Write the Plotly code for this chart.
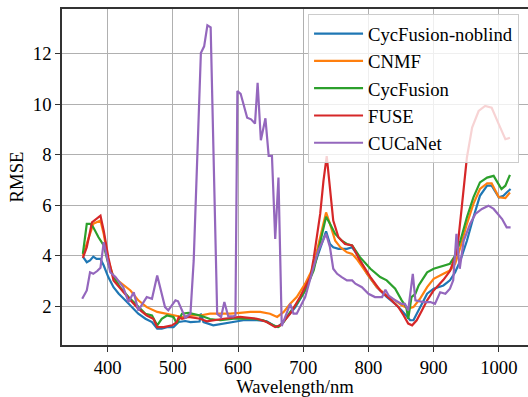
import plotly.graph_objects as go

# ---------------- data ----------------
wl_noblind = [362, 368, 373, 378, 383, 389, 394, 401, 409, 417, 427, 437, 447, 458, 468, 476, 483, 491,
              501, 509, 519, 527, 537, 541, 543, 547, 562, 578, 593, 608, 629, 644, 654, 660, 667, 677,
              688, 700, 711, 716, 726, 735, 741, 746, 754, 767, 775, 782, 798, 813, 828, 841, 851, 859,
              864, 869, 874, 879, 890, 900, 915, 925, 933, 941, 951, 961, 971, 982, 989, 1000, 1007,
              1012, 1018]
rmse_noblind = [3.97, 3.75, 3.82, 3.97, 3.88, 3.88, 3.62, 3.16, 2.76, 2.50, 2.24, 1.97, 1.71, 1.51, 1.38,
                1.12, 1.12, 1.18, 1.18, 1.38, 1.42, 1.38, 1.38, 1.40, 1.71, 1.38, 1.25, 1.32, 1.41, 1.45,
                1.45, 1.41, 1.25, 1.18, 1.32, 1.64, 1.97, 2.50, 3.16, 3.55, 4.34, 4.97, 4.47, 4.34, 4.28,
                4.28, 4.34, 4.08, 3.29, 2.76, 2.37, 2.10, 1.84, 1.58, 1.45, 1.45, 1.71, 1.97, 2.50, 2.70,
                2.83, 3.03, 3.35, 3.82, 4.60, 5.53, 6.38, 6.78, 6.78, 6.32, 6.38, 6.51, 6.65]

wl_cnmf = [362, 371, 378, 383, 389, 394, 401, 409, 422, 435, 447, 460, 476, 488, 501, 514, 527, 542, 557,
           573, 588, 603, 619, 634, 649, 660, 670, 680, 690, 703, 713, 722, 735, 741, 749, 757, 767, 775,
           782, 798, 813, 828, 841, 851, 861, 869, 879, 890, 900, 915, 925, 933, 941, 951, 961, 971, 982,
           989, 1000, 1010, 1017]
rmse_cnmf = [4.01, 4.74, 5.27, 5.33, 5.40, 4.87, 3.82, 3.16, 2.90, 2.63, 2.24, 1.97, 1.78, 1.71, 1.64, 1.58,
             1.64, 1.64, 1.71, 1.71, 1.71, 1.74, 1.78, 1.78, 1.71, 1.58, 1.78, 2.10, 2.37, 2.90, 3.42, 4.30,
             5.72, 5.27, 4.60, 4.34, 4.14, 4.08, 3.88, 3.29, 2.76, 2.43, 2.24, 2.04, 1.91, 1.97, 2.30, 2.76,
             3.09, 3.29, 3.42, 3.69, 4.34, 5.27, 6.06, 6.65, 6.87, 6.87, 6.32, 6.29, 6.51]

wl_cyc = [362, 368, 373, 378, 386, 394, 401, 409, 419, 432, 445, 458, 468, 476, 483, 491, 501, 506, 514,
          524, 542, 557, 573, 593, 624, 639, 654, 662, 670, 680, 690, 703, 716, 726, 735, 741, 749, 759,
          767, 775, 787, 803, 818, 828, 841, 851, 858, 861, 866, 872, 877, 882, 890, 900, 915, 925, 933,
          941, 951, 961, 971, 982, 992, 1004, 1010, 1017]
rmse_cyc = [4.08, 5.27, 5.27, 5.13, 4.74, 4.41, 3.69, 3.16, 2.76, 2.37, 2.04, 1.71, 1.64, 1.25, 1.51, 1.64,
            1.58, 1.32, 1.71, 1.74, 1.64, 1.50, 1.45, 1.51, 1.51, 1.45, 1.25, 1.18, 1.38, 1.78, 2.10, 2.63,
            3.42, 4.50, 5.55, 5.27, 4.87, 4.60, 4.47, 4.41, 3.95, 3.49, 3.16, 3.03, 2.70, 2.24, 1.97, 1.51,
            2.37, 2.50, 2.83, 3.03, 3.35, 3.49, 3.62, 3.69, 4.01, 4.60, 5.53, 6.32, 6.91, 7.10, 7.17, 6.65,
            6.78, 7.21]

wl_fuse = [362, 368, 376, 383, 389, 394, 401, 409, 422, 435, 447, 460, 470, 476, 486, 499, 506, 509, 514,
           524, 542, 552, 578, 603, 629, 644, 657, 665, 680, 695, 711, 716, 726, 731, 736, 740, 746, 754,
           764, 775, 787, 803, 818, 833, 846, 854, 861, 867, 874, 882, 890, 900, 915, 925, 936, 943, 951,
           959, 969, 979, 989, 1000, 1010, 1017]
rmse_fuse = [3.92, 4.34, 5.33, 5.46, 5.59, 5.00, 3.95, 3.03, 2.63, 2.24, 1.91, 1.64, 1.51, 1.18, 1.18, 1.25,
             1.38, 1.58, 1.51, 1.58, 1.51, 1.41, 1.51, 1.58, 1.51, 1.38, 1.18, 1.25, 1.71, 2.37, 3.16, 3.90,
             5.66, 6.97, 7.95, 6.97, 5.40, 4.74, 4.47, 4.41, 3.82, 3.16, 2.63, 2.30, 1.97, 1.64, 1.32, 1.25,
             1.45, 1.84, 2.24, 2.63, 3.05, 3.40, 4.20, 5.90, 7.90, 9.08, 9.74, 9.94, 9.87, 9.21, 8.62, 8.68]

wl_cucanet = [361, 368, 373, 378, 384, 389, 394, 404, 412, 424, 432, 440, 447, 460, 468, 476, 488, 493,
              504, 508, 519, 527, 532, 543, 548, 553, 558, 568, 574, 579, 585, 593, 596, 599, 604, 614,
              620, 626, 630, 635, 642, 647, 652, 657, 662, 667, 680, 685, 690, 703, 713, 723, 735, 741,
              746, 752, 759, 767, 775, 780, 790, 800, 810, 821, 826, 831, 841, 851, 856, 861, 868, 872,
              884, 895, 902, 910, 918, 925, 930, 935, 940, 946, 956, 964, 974, 984, 992, 1005, 1012, 1018]
rmse_cucanet = [2.30, 2.63, 3.35, 3.29, 3.40, 3.53, 4.54, 3.35, 3.16, 2.76, 2.17, 2.56, 1.84, 2.37, 2.30,
                3.22, 1.97, 1.84, 2.24, 2.20, 1.55, 1.71, 3.82, 12.04, 12.30, 13.13, 13.05, 1.70, 1.58,
                2.17, 1.60, 1.60, 1.65, 10.53, 10.42, 9.47, 9.41, 9.24, 10.86, 8.58, 9.45, 7.96, 7.96,
                4.67, 7.10, 1.22, 2.10, 1.71, 1.71, 2.37, 3.29, 4.21, 4.87, 4.34, 3.49, 3.29, 3.16, 3.03,
                3.03, 2.90, 2.76, 2.50, 2.37, 2.37, 2.66, 2.43, 2.24, 2.10, 2.10, 1.84, 3.29, 2.24, 2.17,
                2.17, 2.10, 2.56, 2.50, 2.70, 3.03, 4.87, 3.49, 4.60, 5.27, 5.66, 5.86, 5.99, 5.86, 5.46,
                5.13, 5.13]

series_names = ["CycFusion-noblind", "CNMF", "CycFusion", "FUSE", "CUCaNet"]
series_x = [wl_noblind, wl_cnmf, wl_cyc, wl_fuse, wl_cucanet]
series_y = [rmse_noblind, rmse_cnmf, rmse_cyc, rmse_fuse, rmse_cucanet]
colors = ["#1f77b4", "#ff7f0e", "#2ca02c", "#d62728", "#9467bd"]

x_ticks = [400, 500, 600, 700, 800, 900, 1000]
y_ticks = [2, 4, 6, 8, 10, 12]

# ---------------- figure ----------------
FONT = "Liberation Serif"
FS = 18.67
fig = go.Figure()
for name, xs, ys, c in zip(series_names, series_x, series_y, colors):
    fig.add_trace(go.Scatter(x=xs, y=ys, mode="lines", name=name,
                             line=dict(color=c, width=2.2)))

axis_common = dict(
    showline=True, linecolor="#333333", linewidth=1.5,
    ticks="outside", ticklen=5, tickwidth=1.2, tickcolor="#333333",
    showgrid=True, gridcolor="#b0b0b0", gridwidth=1,
    zeroline=False, automargin=False,
    tickfont=dict(family=FONT, size=FS, color="black"),
)

fig.update_layout(
    width=528, height=397,
    margin=dict(l=62, r=0, t=9, b=52),
    paper_bgcolor="white", plot_bgcolor="white",
    font=dict(family=FONT, size=FS, color="black"),
    xaxis=dict(range=[330, 1044.7], tickvals=x_ticks, mirror=True,
               title=dict(text="Wavelength/nm", font=dict(family=FONT, size=FS), standoff=8),
               **axis_common),
    yaxis=dict(range=[0.47, 13.78], tickvals=y_ticks,
               title=dict(text="RMSE", font=dict(family=FONT, size=FS), standoff=4),
               **axis_common),
    legend=dict(x=0.528, y=0.985, xanchor="left", yanchor="top", itemwidth=49,
                bgcolor="rgba(255,255,255,0.8)", bordercolor="#cccccc", borderwidth=1,
                font=dict(family=FONT, size=FS, color="black")),
    showlegend=True,
)

fig.write_html("out.html")
